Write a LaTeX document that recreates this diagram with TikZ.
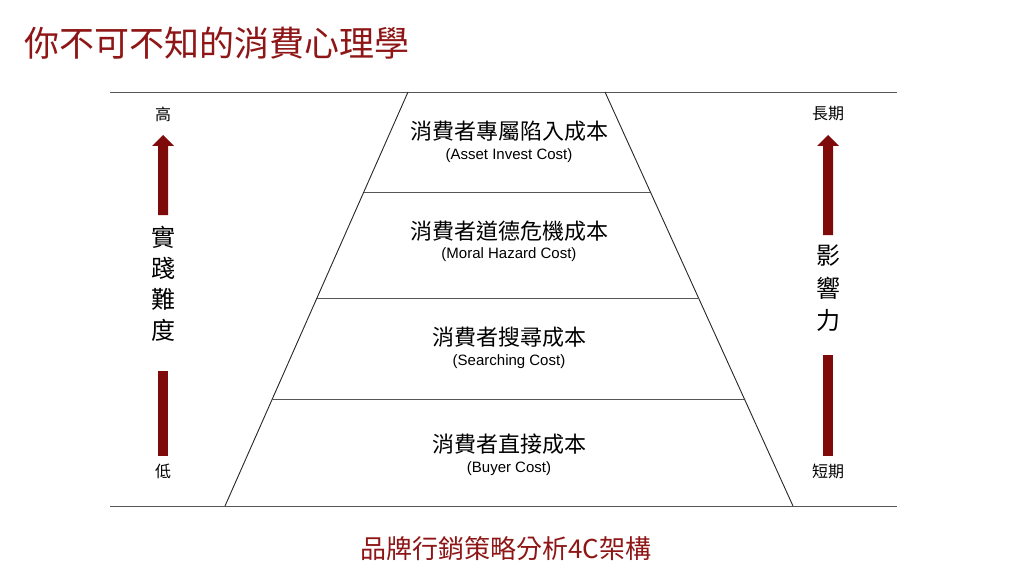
\documentclass[tikz,border=0pt]{standalone}
\usepackage{fontspec}
\usetikzlibrary{calc}
\setmainfont{Liberation Sans}
\newfontfamily\cjk{Noto Sans CJK TC}
\definecolor{darkred}{HTML}{7F0A0A}
\definecolor{titlered}{HTML}{8E1616}
\definecolor{rulegray}{HTML}{555555}
\begin{document}
\begin{tikzpicture}[x=1pt,y=-1pt,
  rule/.style={draw=rulegray,line width=0.9pt},
  edge/.style={draw=black!85,line width=0.9pt},
  zh/.style={font=\cjk\fontsize{22}{24}\selectfont,inner sep=0pt},
  en/.style={font=\fontsize{15}{17}\selectfont,inner sep=0pt},
  side/.style={font=\cjk\fontsize{16}{18}\selectfont,inner sep=0pt},
  vert/.style={font=\cjk\fontsize{24}{26}\selectfont,inner sep=0pt},
  bar/.style={fill=darkred,draw=none}]
\useasboundingbox (0,0) rectangle (1024,572);
% title
\node[anchor=west,inner sep=0pt,text=titlered,font=\cjk\fontsize{35}{38}\selectfont] (title) at (24,43) {你不可不知的消費心理學};
% rules
\coordinate (tl) at (110,92); \coordinate (tr) at (897,92);
\coordinate (bl) at (110,506); \coordinate (br) at (897,506);
\draw[rule] (tl) -- (tr);
\draw[rule] (bl) -- (br);
% pyramid
\coordinate (p1) at (408,92); \coordinate (p2) at (605,92);
\coordinate (p3) at (793,506); \coordinate (p4) at (225,506);
\draw[edge] (p1) -- (p4);
\draw[edge] (p2) -- (p3);
\draw[rule] ($(p1)!0.2415!(p4)$) -- ($(p2)!0.2415!(p3)$);
\draw[rule] ($(p1)!0.4976!(p4)$) -- ($(p2)!0.4976!(p3)$);
\draw[rule] ($(p1)!0.7415!(p4)$) -- ($(p2)!0.7415!(p3)$);
% tier texts
\node[zh] (t1a) at (509,131) {消費者專屬陷入成本};
\node[en] (t1b) at (509,156) {(Asset Invest Cost)};
\node[zh] (t2a) at (509,231) {消費者道德危機成本};
\node[en] (t2b) at (509,255) {(Moral Hazard Cost)};
\node[zh] (t3a) at (509,337) {消費者搜尋成本};
\node[en] (t3b) at (509,362) {(Searching Cost)};
\node[zh] (t4a) at (509,444) {消費者直接成本};
\node[en] (t4b) at (509,469) {(Buyer Cost)};
% left scale
\node[side] (lhigh) at (163,114) {高};
\fill[bar] (158,215) -- (158,146) -- (152,146) -- (163,135) -- (174,146) -- (168,146) -- (168,215) -- cycle;
\node[vert] (l1) at (163,237) {實};
\node[vert] (l2) at (163,268) {踐};
\node[vert] (l3) at (163,299) {難};
\node[vert] (l4) at (163,330) {度};
\fill[bar] (158,371) rectangle (168,456);
\node[side] (llow) at (163,471) {低};
% right scale
\node[side] (rhigh) at (828,114) {長期};
\fill[bar] (823,235) -- (823,146) -- (817,146) -- (828,135) -- (839,146) -- (833,146) -- (833,235) -- cycle;
\node[vert] (r1) at (828,256) {影};
\node[vert] (r2) at (828,288) {響};
\node[vert] (r3) at (828,320) {力};
\fill[bar] (823,355) rectangle (833,456);
\node[side] (rlow) at (828,471) {短期};
% caption
\node[inner sep=0pt,text=titlered,font=\cjk\fontsize{26}{28}\selectfont] (cap) at (506,549) {品牌行銷策略分析4C架構};
\end{tikzpicture}
\end{document}
